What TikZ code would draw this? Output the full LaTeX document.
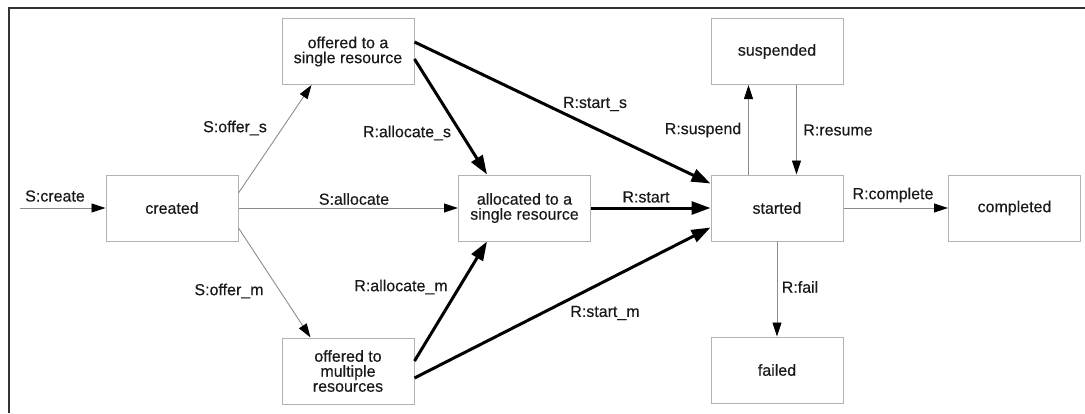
\documentclass[tikz,border=0pt]{standalone}
\usepackage{fontspec}
\setmainfont{Liberation Sans}
\newfontfamily\diagfont[FakeBold=0.35]{Liberation Sans}
\usetikzlibrary{arrows.meta,calc}
\definecolor{boxgray}{gray}{0.70}
\definecolor{linegray}{gray}{0.55}
\begin{document}
\begin{tikzpicture}[x=1pt,y=-1pt,
  state/.style={draw=boxgray, line width=1pt, fill=white,
    minimum width=132pt, minimum height=66pt, inner sep=0pt,
    align=center, font=\diagfont\fontsize{16}{15}\selectfont, text=black!90},
  weakedge/.style={draw=linegray, line width=0.9pt,
    -{Triangle[length=14pt,width=9pt,color=black]}},
  strongedge/.style={draw=black, line width=3pt,
    -{Triangle[length=19pt,width=13pt]}},
  lbl/.style={font=\diagfont\fontsize{16}{16}\selectfont, inner sep=0pt, text=black!90}]

% canvas and frame
\useasboundingbox (0,0) rectangle (1085,413);
\draw[line width=2pt, black!80] (1085,8) -- (9,8) -- (9,413);

% states
\node[state] (cre)   at (172,208)    {created};
\node[state] (offs)  at (348,51.5)   {offered to a\\single resource};
\node[state] (offm)  at (348,371)    {offered to\\multiple\\resources};
\node[state] (alloc) at (524.5,208)  {allocated to a\\single resource};
\node[state] (start) at (777,208)    {started};
\node[state] (susp)  at (777,51.5)   {suspended};
\node[state] (compl) at (1014.5,208) {completed};
\node[state] (fail)  at (777,370)    {failed};

% entry point
\coordinate (src) at (20,208);

% system transitions
\draw[weakedge] (src) -- (cre.west);
\draw[weakedge] ($(cre.east)+(0,-15)$) -- ($(offs.south west)+(30,0)$);
\draw[weakedge] (cre.east) -- (alloc.west);
\draw[weakedge] ($(cre.east)+(0,20)$) -- ($(offm.north west)+(29,0)$);

% resource transitions
\draw[strongedge] ($(offs.east)+(0,7.5)$) -- ($(alloc.north west)+(29,0)$);
\draw[strongedge] ($(offs.east)+(0,-9.5)$) -- ($(start.north west)+(0,9)$);
\draw[strongedge] (alloc.east) -- (start.west);
\draw[strongedge] ($(offm.east)+(0,-10)$) -- ($(alloc.south west)+(29,0)$);
\draw[strongedge] ($(offm.east)+(0,7)$) -- ($(start.south west)+(0,-14)$);
\draw[weakedge] ($(start.north west)+(38,0)$) -- ($(susp.south west)+(38,0)$);
\draw[weakedge] ($(susp.south west)+(86,0)$) -- ($(start.north west)+(86,0)$);
\draw[weakedge] (start.east) -- (compl.west);
\draw[weakedge] (start.south) -- (fail.north);

% transition labels
\node[lbl] (lcreate)   at (55,196)  {S:create};
\node[lbl] (lofferS)   at (235,128) {S:offer\_s};
\node[lbl] (lalloc)    at (354,199) {S:allocate};
\node[lbl] (lofferM)   at (229,291) {S:offer\_m};
\node[lbl] (lallocS)   at (407,133) {R:allocate\_s};
\node[lbl] (lstartS)   at (595,104) {R:start\_s};
\node[lbl] (lstart)    at (646,197) {R:start};
\node[lbl] (lallocM)   at (401,287) {R:allocate\_m};
\node[lbl] (lstartM)   at (605,313) {R:start\_m};
\node[lbl] (lsuspend)  at (703,130) {R:suspend};
\node[lbl] (lresume)   at (838,130) {R:resume};
\node[lbl] (lcomplete) at (893,195) {R:complete};
\node[lbl] (lfail)     at (800,287) {R:fail};
\end{tikzpicture}
\end{document}
